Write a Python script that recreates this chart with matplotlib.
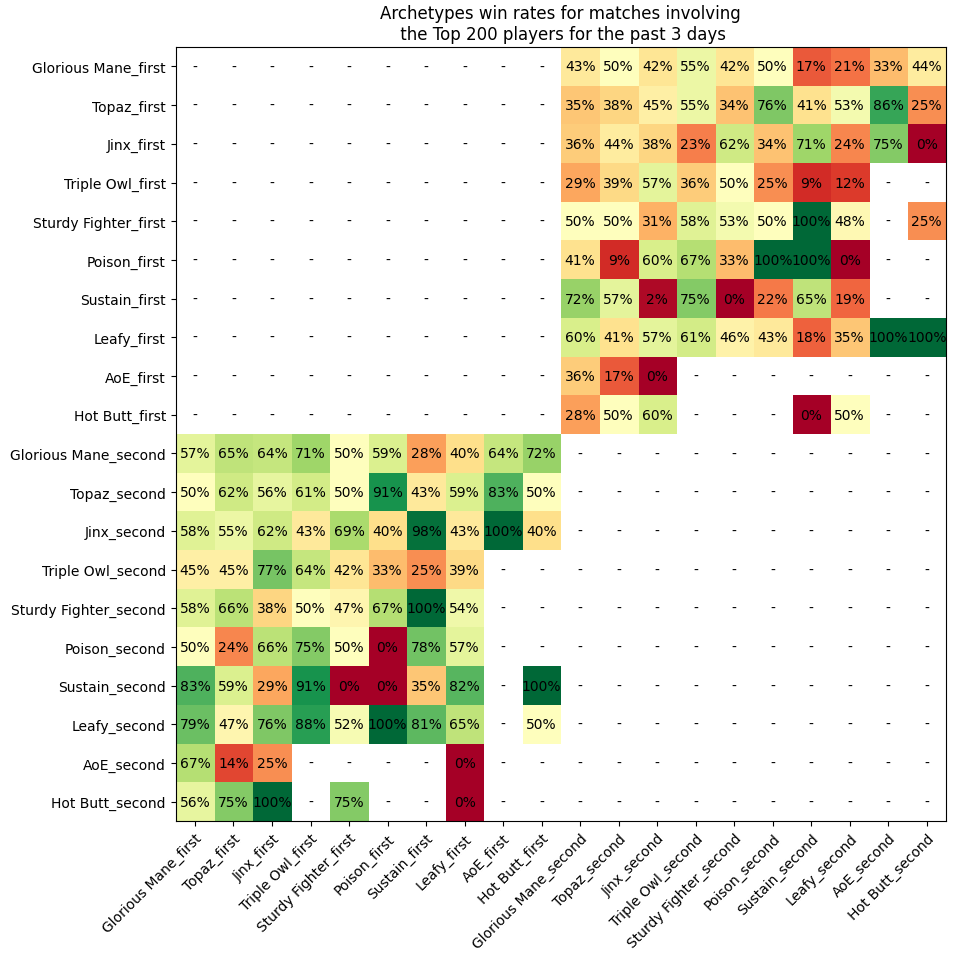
import matplotlib
matplotlib.use("Agg")
import matplotlib.pyplot as plt
import numpy as np

archetypes = ["Glorious Mane", "Topaz", "Jinx", "Triple Owl", "Sturdy Fighter",
              "Poison", "Sustain", "Leafy", "AoE", "Hot Butt"]
labels = [a + "_first" for a in archetypes] + [a + "_second" for a in archetypes]

N = None
# rows: *_first, columns: *_second (win rate in %)
first_vs_second = [
    [43, 50, 42, 55, 42, 50, 17, 21, 33, 44],
    [35, 38, 45, 55, 34, 76, 41, 53, 86, 25],
    [36, 44, 38, 23, 62, 34, 71, 24, 75, 0],
    [29, 39, 57, 36, 50, 25, 9, 12, N, N],
    [50, 50, 31, 58, 53, 50, 100, 48, N, 25],
    [41, 9, 60, 67, 33, 100, 100, 0, N, N],
    [72, 57, 2, 75, 0, 22, 65, 19, N, N],
    [60, 41, 57, 61, 46, 43, 18, 35, 100, 100],
    [36, 17, 0, N, N, N, N, N, N, N],
    [28, 50, 60, N, N, N, 0, 50, N, N],
]
# rows: *_second, columns: *_first
second_vs_first = [
    [57, 65, 64, 71, 50, 59, 28, 40, 64, 72],
    [50, 62, 56, 61, 50, 91, 43, 59, 83, 50],
    [58, 55, 62, 43, 69, 40, 98, 43, 100, 40],
    [45, 45, 77, 64, 42, 33, 25, 39, N, N],
    [58, 66, 38, 50, 47, 67, 100, 54, N, N],
    [50, 24, 66, 75, 50, 0, 78, 57, N, N],
    [83, 59, 29, 91, 0, 0, 35, 82, N, 100],
    [79, 47, 76, 88, 52, 100, 81, 65, N, 50],
    [67, 14, 25, N, N, N, N, 0, N, N],
    [56, 75, 100, N, 75, N, N, 0, N, N],
]

n = len(archetypes)
data = np.full((2 * n, 2 * n), np.nan)
for i in range(n):
    for j in range(n):
        if first_vs_second[i][j] is not None:
            data[i, n + j] = first_vs_second[i][j] / 100
        if second_vs_first[i][j] is not None:
            data[n + i, j] = second_vs_first[i][j] / 100

fig = plt.figure(figsize=(9.55, 9.62), dpi=100)
ax = fig.add_axes([0.184, 0.1455, 0.8066, 0.8045])
ax.imshow(data, cmap="RdYlGn", vmin=0, vmax=1, aspect="auto")

ax.set_xticks(np.arange(2 * n))
ax.set_yticks(np.arange(2 * n))
ax.set_xticklabels(labels, rotation=45, ha="right", rotation_mode="anchor")
ax.set_yticklabels(labels)

for i in range(2 * n):
    for j in range(2 * n):
        v = data[i, j]
        txt = "-" if np.isnan(v) else f"{round(v * 100)}%"
        ax.text(j, i, txt, ha="center", va="center", color="black", fontsize=10)

ax.set_title("Archetypes win rates for matches involving\n the Top 200 players for the past 3 days",
             fontsize=12)

fig.savefig("out.png")
